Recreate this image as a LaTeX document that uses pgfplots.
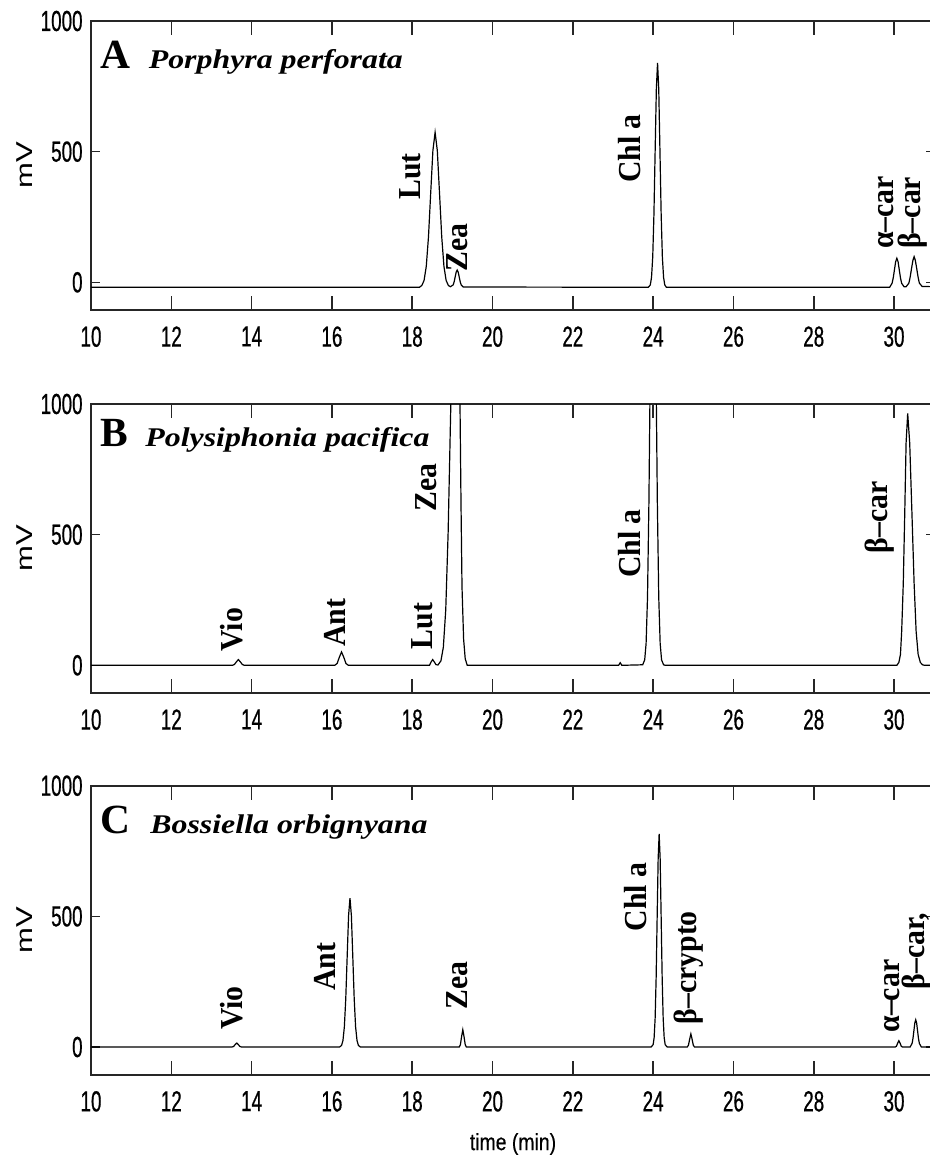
\documentclass[border=0pt]{standalone}
\usepackage{fontspec}
\usepackage{pgfplots}
\pgfplotsset{compat=1.18}
\setmainfont{Liberation Serif}
\newfontfamily\tickfont[FakeStretch=0.65,FakeBold=0.6]{Liberation Sans}
\newfontfamily\mvfont[FakeStretch=1.35]{Liberation Sans}
\newfontfamily\timefont[FakeStretch=0.83,FakeBold=0.4]{Liberation Sans}
\newfontfamily\peakfont[FakeStretch=0.93]{Liberation Serif}
\newfontfamily\specfont[FakeStretch=1.18]{Liberation Serif}
\pgfplotsset{
 chrom/.style={
  scale only axis, width=422pt, height=144.5pt,
  xmin=10, xmax=31.02, ymin=-106, ymax=1000,
  clip mode=individual,
  xtick={10,12,...,30}, ytick={0,500,1000},
  tick align=inside,
  axis line style={black!85, line width=1pt},
  every tick/.style={black!85, line width=0.8pt},
  xtick style={/pgfplots/major tick length=7pt},
  ytick style={/pgfplots/major tick length=4.5pt},
  scaled ticks=false,
  /pgf/number format/1000 sep={},
  /pgf/number format/assume math mode=true,
  ticklabel style={font=\tickfont\fontsize{14.5}{14.5}\selectfont, inner sep=0pt},
  xticklabel style={yshift=-8pt},
  yticklabel style={xshift=-4pt},
 },
}
\tikzset{
 plab/.style={rotate=90, anchor=west, inner sep=0pt, font=\peakfont\bfseries\fontsize{16}{16}\selectfont},
 biglet/.style={anchor=base west, inner sep=0pt, font=\bfseries\fontsize{20.75}{20.75}\selectfont},
 spec/.style={anchor=base west, inner sep=0pt, font=\specfont\bfseries\itshape\fontsize{13.5}{13.5}\selectfont},
 mvlab/.style={rotate=90, inner sep=0pt, font=\mvfont\fontsize{11.5}{11.5}\selectfont},
}
\begin{document}
\begin{tikzpicture}
% ---------- Panel A
\begin{axis}[chrom, at={(0,0)}, anchor=north west]
\addplot[black, line width=0.6pt] coordinates {
(10,-19) (18.18,-19) (18.24,-12) (18.295,7) (18.35,61) (18.405,174) (18.46,341) (18.515,504) (18.57,574) (18.625,504) (18.68,341) (18.735,174) (18.79,61) (18.845,7) (18.90,-12) (18.95,-17) (19.02,-10) (19.045,2) (19.07,21) (19.095,39) (19.12,47) (19.145,39) (19.17,21) (19.195,2) (19.22,-10) (19.27,-18) (23.88,-19) (23.93,-10) (23.96,19) (23.99,97) (24.02,260) (24.05,502) (24.08,739) (24.11,840) (24.14,739) (24.17,502) (24.20,260) (24.23,97) (24.26,19) (24.29,-10) (24.33,-19) (29.89,-19) (29.95,-4) (29.98,17) (30.01,48) (30.04,79) (30.07,92) (30.10,79) (30.13,48) (30.16,17) (30.19,-4) (30.25,-17) (30.30,-17) (30.37,-3) (30.40,19) (30.435,52) (30.47,84) (30.50,98) (30.53,84) (30.565,52) (30.60,19) (30.63,-3) (30.70,-16) (31.1,-17)
};
\node[biglet] at (axis cs:10.22,818) {A};
\node[spec] at (axis cs:11.43,818) {Porphyra perforata};
\node[plab] at (axis cs:17.96,315) {Lut};
\node[plab] at (axis cs:19.12,40) {Zea};
\node[plab] at (axis cs:23.42,379) {Chl a};
\node[plab] at (axis cs:29.80,127) {α–car};
\node[plab] at (axis cs:30.47,127) {β–car};
\node[mvlab] at ([xshift=-33pt]rel axis cs:0,0.5) {mV};
\end{axis}
% ---------- Panel B
\begin{axis}[chrom, at={(0,-191.5pt)}, anchor=north west]
\addplot[black, line width=0.6pt] coordinates {
(10,0) (13.52,0) (13.57,3) (13.62,13) (13.67,22) (13.72,13) (13.77,3) (13.82,0) (16.07,0) (16.13,7) (16.185,31) (16.24,51) (16.295,31) (16.35,7) (16.41,0) (18.43,0) (18.47,13) (18.51,22) (18.55,13) (18.59,3) (18.64,1) (18.715,17) (18.775,69) (18.835,212) (18.895,510) (18.955,952) (19.015,1386) (19.075,1570) (19.135,1386) (19.19,1000) (19.215,620) (19.24,300) (19.28,100) (19.32,25) (19.37,0) (23.14,0) (23.18,10) (23.22,0) (23.74,2) (23.79,21) (23.825,84) (23.86,260) (23.895,623) (23.93,1164) (23.965,1694) (24.0,1920) (24.035,1694) (24.07,1164) (24.105,623) (24.14,260) (24.175,84) (24.21,21) (24.26,2) (24.30,0) (30.07,0) (30.12,11) (30.16,42) (30.19,130) (30.23,313) (30.267,585) (30.30,851) (30.34,964) (30.39,851) (30.445,585) (30.50,313) (30.55,130) (30.60,42) (30.655,11) (30.71,2) (30.76,0) (31.1,0)
};
\node[biglet] at (axis cs:10.22,836) {B};
\node[spec] at (axis cs:11.345,836) {Polysiphonia pacifica};
\node[plab] at (axis cs:13.50,51) {Vio};
\node[plab] at (axis cs:16.08,70) {Ant};
\node[plab] at (axis cs:18.24,60) {Lut};
\node[plab] at (axis cs:18.36,587) {Zea};
\node[plab] at (axis cs:23.42,333) {Chl a};
\node[plab] at (axis cs:29.65,428) {β–car};
\node[mvlab] at ([xshift=-33pt]rel axis cs:0,0.5) {mV};
\end{axis}
% ---------- Panel C
\begin{axis}[chrom, at={(0,-382.35pt)}, anchor=north west]
\addplot[black, line width=0.6pt] coordinates {
(10,0) (13.51,0) (13.55,2) (13.59,9) (13.63,15) (13.67,9) (13.71,2) (13.75,0) (16.19,0) (16.24,6) (16.275,25) (16.31,77) (16.345,185) (16.38,346) (16.415,503) (16.45,570) (16.485,503) (16.52,346) (16.555,185) (16.59,77) (16.625,25) (16.66,6) (16.71,0) (19.17,0) (19.20,9) (19.23,40) (19.26,66) (19.29,40) (19.32,9) (19.35,0) (23.95,0) (24.0,9) (24.025,36) (24.05,110) (24.075,265) (24.1,495) (24.125,720) (24.15,816) (24.175,720) (24.2,495) (24.225,265) (24.25,110) (24.275,36) (24.3,9) (24.35,0) (24.85,0) (24.88,7) (24.91,30) (24.94,50) (24.97,30) (25.0,7) (25.03,0) (30.03,0) (30.06,3) (30.09,15) (30.12,24) (30.15,15) (30.18,3) (30.21,0) (30.40,0) (30.45,14) (30.4725,34) (30.495,63) (30.5175,92) (30.54,104) (30.5625,92) (30.585,63) (30.6075,34) (30.63,14) (30.68,0) (31.1,0)
};
\node[biglet] at (axis cs:10.22,816) {C};
\node[spec] at (axis cs:11.47,816) {Bossiella orbignyana};
\node[plab] at (axis cs:13.50,64) {Vio};
\node[plab] at (axis cs:15.83,213) {Ant};
\node[plab] at (axis cs:19.11,143) {Zea};
\node[plab] at (axis cs:23.55,442) {Chl a};
\node[plab] at (axis cs:24.88,85) {β–crypto};
\node[plab] at (axis cs:29.94,54) {α–car};
\node[plab] at (axis cs:30.57,219) {β–car,};
\node[mvlab] at ([xshift=-33pt]rel axis cs:0,0.5) {mV};
\node[anchor=north, inner sep=0pt, font=\timefont\fontsize{11.7}{11.7}\selectfont] at ([yshift=-29pt]rel axis cs:0.5,0) {time (min)};
\end{axis}
\pgfresetboundingbox
\path[use as bounding box] (-45.5pt,10.5pt) rectangle (419.5pt,-568pt);
\end{tikzpicture}
\end{document}
